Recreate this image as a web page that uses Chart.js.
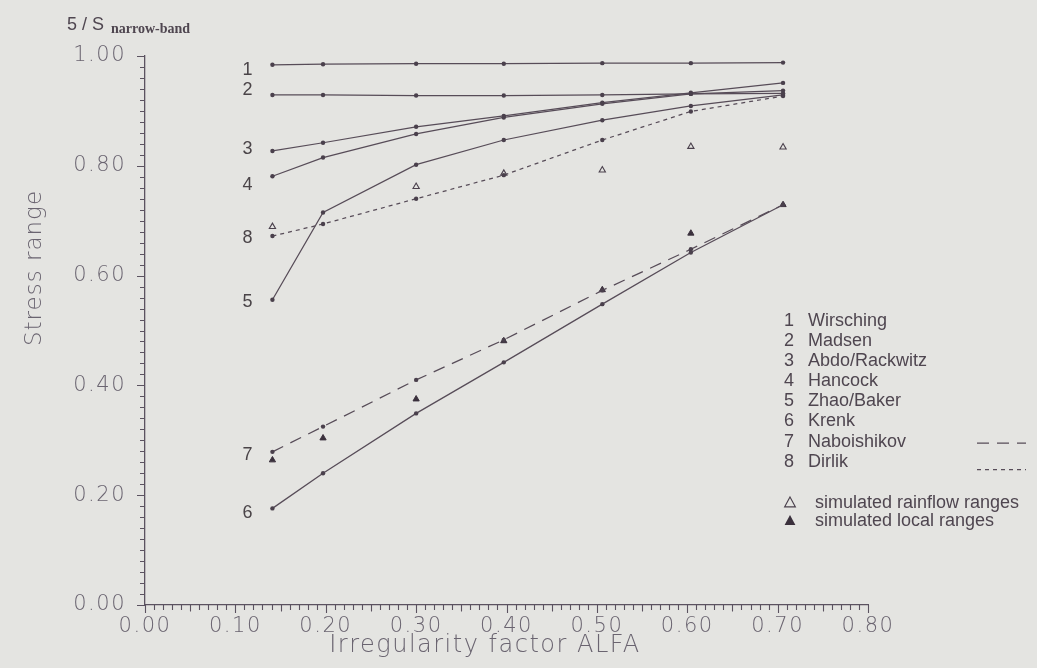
<!DOCTYPE html>
<html>
<head>
<meta charset="utf-8">
<title>Stress range vs irregularity factor</title>
<script src="https://cdn.jsdelivr.net/npm/chart.js@4.4.1/dist/chart.umd.min.js"></script>
<style>
  html, body { margin: 0; padding: 0; background: #e4e4e1; }
  #wrap { width: 1037px; height: 668px; position: relative; }
  canvas { display: block; }
</style>
</head>
<body>
<div id="wrap"><canvas id="c" width="1037" height="668"></canvas></div>
<script>
// Irregularity factor of each spectrum
const alfa = [0.141, 0.197, 0.300, 0.397, 0.506, 0.604, 0.706];

// Stress range ratio S / S_narrow-band predicted by each method
const wirsching   = [0.984, 0.985, 0.986, 0.986, 0.987, 0.987, 0.988];
const madsen      = [0.929, 0.929, 0.928, 0.928, 0.929, 0.931, 0.932];
const abdoRack    = [0.827, 0.842, 0.871, 0.891, 0.915, 0.933, 0.951];
const hancock     = [0.781, 0.815, 0.858, 0.888, 0.913, 0.931, 0.937];
const zhaoBaker   = [0.556, 0.715, 0.802, 0.847, 0.883, 0.909, 0.929];
const krenk       = [0.176, 0.240, 0.349, 0.442, 0.548, 0.642, 0.729];
const naboishikov = [0.279, 0.325, 0.410, 0.483, 0.573, 0.648, 0.729];
const dirlik      = [0.672, 0.694, 0.740, 0.783, 0.847, 0.899, 0.927];

// Simulation results
const rainflowRanges = [0.689, null, 0.762, 0.786, 0.792, 0.835, 0.834];
const localRanges    = [0.264, 0.304, 0.375, 0.481, 0.574, 0.677, 0.729];

const methodNames = ['Wirsching', 'Madsen', 'Abdo/Rackwitz', 'Hancock', 'Zhao/Baker', 'Krenk', 'Naboishikov', 'Dirlik'];
const methodSeries = [wirsching, madsen, abdoRack, hancock, zhaoBaker, krenk, naboishikov, dirlik];
const simNames = ['simulated rainflow ranges', 'simulated local ranges'];

const xTitle = 'Irregularity factor ALFA';
const yTitle = 'Stress range';
const headerMain = '5 / S';
const headerSub = 'narrow-band';

// ---- styling ----
const ink = '#574c58';
const axisInk = '#5b5260';
const tickInk = '#6a6470';
const dashStyles = [[], [], [], [], [], [], [12, 8], [4, 4]];
const labelNudge = [5, -5, -2, 9, 2, 5, 3, 2];   // px shift of the curve numbers

const toPts = arr => alfa.map((x, i) => ({ x, y: arr[i] }));

const datasets = methodSeries.map((s, i) => ({
  label: methodNames[i],
  data: toPts(s),
  borderColor: ink,
  backgroundColor: ink,
  borderWidth: 1.25,
  borderDash: dashStyles[i],
  pointRadius: 2.2,
  pointBorderWidth: 0,
  pointBackgroundColor: '#4a404c',
  tension: 0,
  showLine: true,
  fill: false
}));

datasets.push({
  label: simNames[0],
  data: toPts(rainflowRanges).filter(p => p.y !== null),
  showLine: false,
  pointStyle: 'triangle',
  pointRadius: 3.6,
  pointBorderWidth: 1.1,
  pointBorderColor: '#4a404c',
  pointBackgroundColor: 'rgba(0,0,0,0)'
});
datasets.push({
  label: simNames[1],
  data: toPts(localRanges),
  showLine: false,
  pointStyle: 'triangle',
  pointRadius: 3.6,
  pointBorderWidth: 1,
  pointBorderColor: '#3a303c',
  pointBackgroundColor: '#3a303c'
});

const tickFont = { family: '"DejaVu Sans"', size: 21, weight: 200 };

// Wider letter spacing for the axis numbers
const spacedTicks = {
  id: 'spacedTicks',
  beforeDraw(chart) { chart.ctx.letterSpacing = '1.5px'; },
  beforeDatasetsDraw(chart) { chart.ctx.letterSpacing = '0px'; }
};

// Minor ticks, titles, curve numbers and the key
const annotations = {
  id: 'annotations',
  afterDraw(chart) {
    const { ctx, chartArea } = chart;
    const xs = chart.scales.x, ys = chart.scales.y;
    ctx.save();
    ctx.letterSpacing = '0px';

    // minor ticks on the x axis (every 0.01, downward)
    ctx.strokeStyle = axisInk;
    ctx.lineWidth = 1.1;
    ctx.beginPath();
    for (let i = 0; i <= 80; i++) {
      const px = Math.round(xs.getPixelForValue(i / 100)) + 0.5;
      const len = i % 10 === 0 ? 8 : (i % 5 === 0 ? 6.5 : 5);
      ctx.moveTo(px, chartArea.bottom);
      ctx.lineTo(px, chartArea.bottom + len);
    }
    // ticks on the y axis (every 0.02, leftward)
    for (let i = 0; i <= 50; i++) {
      const py = Math.round(ys.getPixelForValue(i / 50)) + 0.5;
      const len = i % 10 === 0 ? 8 : 5;
      ctx.moveTo(chartArea.left, py);
      ctx.lineTo(chartArea.left - len, py);
    }
    ctx.stroke();

    // axis titles
    ctx.fillStyle = tickInk;
    ctx.textAlign = 'center';
    ctx.textBaseline = 'middle';
    ctx.font = '200 24px "DejaVu Sans"';
    ctx.letterSpacing = '1.5px';
    ctx.fillText(xTitle, 485, 646);
    ctx.save();
    ctx.translate(35, 268);
    ctx.rotate(-Math.PI / 2);
    ctx.letterSpacing = '1px';
    ctx.font = '200 23px "DejaVu Sans"';
    ctx.fillText(yTitle, 0, 0);
    ctx.restore();
    ctx.letterSpacing = '0px';

    // header above the y axis
    ctx.fillStyle = '#4f4650';
    ctx.textAlign = 'left';
    ctx.textBaseline = 'alphabetic';
    ctx.font = '18px "Liberation Sans"';
    ctx.fillText(headerMain, 67, 30);
    ctx.font = 'bold 14px "Liberation Serif"';
    ctx.fillText(headerSub, 111, 33);

    // curve numbers to the left of the first points
    ctx.fillStyle = '#4a4448';
    ctx.font = '18px "Liberation Sans"';
    ctx.textAlign = 'center';
    ctx.textBaseline = 'middle';
    const x0 = xs.getPixelForValue(alfa[0]) - 25;
    methodSeries.forEach((s, i) => {
      ctx.fillText(String(i + 1), x0, ys.getPixelForValue(s[0]) + labelNudge[i]);
    });

    // key
    ctx.fillStyle = '#4f4650';
    ctx.font = '18px "Liberation Sans"';
    const rowTop = 321, rowStep = 20.1;
    methodNames.forEach((name, i) => {
      const y = rowTop + i * rowStep;
      ctx.textAlign = 'center';
      ctx.fillText(String(i + 1), 789, y);
      ctx.textAlign = 'left';
      ctx.fillText(name, 808, y);
      if (dashStyles[i].length) {
        ctx.save();
        ctx.strokeStyle = ink;
        ctx.lineWidth = 1.3;
        ctx.setLineDash(dashStyles[i]);
        const ly = i === 7 ? y + 8 : y + 1.5;
        ctx.beginPath();
        ctx.moveTo(977, ly);
        ctx.lineTo(1026, ly);
        ctx.stroke();
        ctx.restore();
      }
    });

    const tri = (cx, cy, r, filled) => {
      ctx.beginPath();
      ctx.moveTo(cx, cy - r);
      ctx.lineTo(cx + r * 0.9, cy + r * 0.65);
      ctx.lineTo(cx - r * 0.9, cy + r * 0.65);
      ctx.closePath();
      if (filled) { ctx.fillStyle = '#3a303c'; ctx.fill(); }
      else { ctx.strokeStyle = '#4a404c'; ctx.lineWidth = 1.1; ctx.stroke(); }
    };
    tri(790, 503, 6, false);
    tri(790, 521, 6, true);
    ctx.fillStyle = '#4f4650';
    ctx.textAlign = 'left';
    ctx.fillText(simNames[0], 815, 503);
    ctx.fillText(simNames[1], 815, 521);

    ctx.restore();
  }
};

new Chart(document.getElementById('c'), {
  type: 'line',
  data: { datasets },
  options: {
    responsive: false,
    animation: false,
    layout: { padding: { left: 0, right: 169, top: 56, bottom: 0 } },
    plugins: { legend: { display: false }, tooltip: { enabled: false } },
    scales: {
      x: {
        type: 'linear',
        min: 0, max: 0.8,
        afterFit(scale) { scale.height = 63; },
        grid: { display: false, drawTicks: false },
        border: { display: true, color: axisInk, width: 1.3 },
        ticks: {
          stepSize: 0.1,
          padding: 9,
          color: tickInk,
          font: tickFont,
          maxRotation: 0,
          callback: v => Number(v).toFixed(2)
        }
      },
      y: {
        type: 'linear',
        min: 0, max: 1,
        afterFit(scale) { scale.width = 145; },
        grid: { display: false, drawTicks: false },
        border: { display: true, color: axisInk, width: 1.3 },
        ticks: {
          stepSize: 0.2,
          padding: 19,
          color: tickInk,
          font: tickFont,
          callback: v => Number(v).toFixed(2)
        }
      }
    }
  },
  plugins: [spacedTicks, annotations]
});
</script>
</body>
</html>
